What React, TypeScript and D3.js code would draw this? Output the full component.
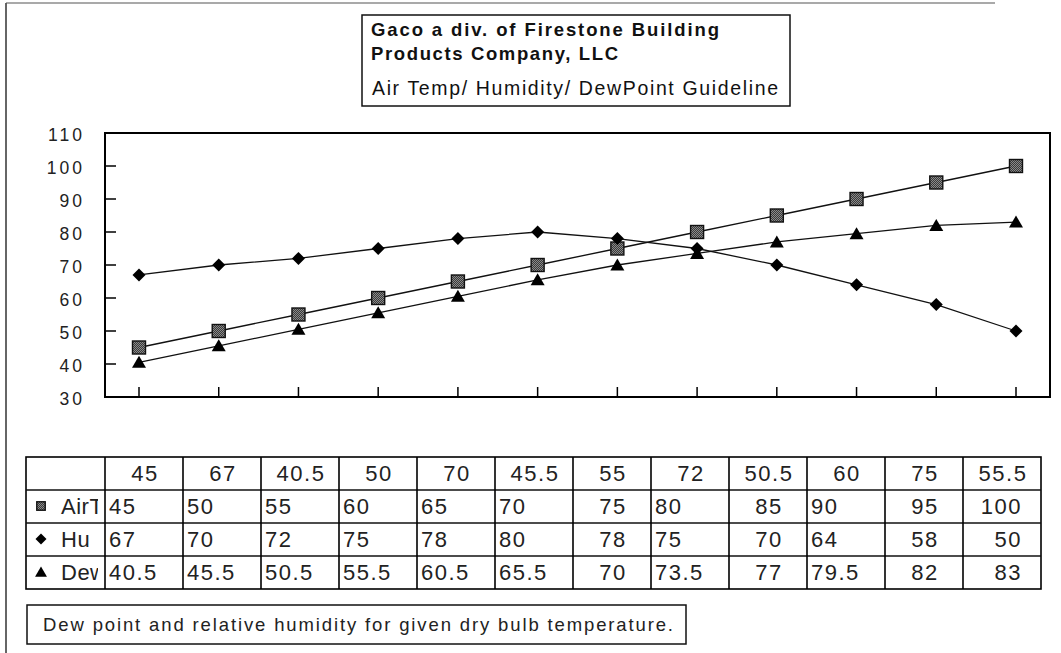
import React from 'react';
import * as d3 from 'd3';

const categories = ['45', '67', '40.5', '50', '70', '45.5', '55', '72', '50.5', '60', '75', '55.5'];
const airTemp = [45, 50, 55, 60, 65, 70, 75, 80, 85, 90, 95, 100];
const humidity = [67, 70, 72, 75, 78, 80, 78, 75, 70, 64, 58, 50];
const dewPoint = [40.5, 45.5, 50.5, 55.5, 60.5, 65.5, 70, 73.5, 77, 79.5, 82, 83];
const yTicks = [30, 40, 50, 60, 70, 80, 90, 100, 110];
const seriesNames = ['Air Temp', 'Humidity', 'Dew Point'];
const seriesShown = ['AirT', 'Hu', 'Dew'];
const titleLines = ['Gaco a div. of Firestone Building', 'Products Company, LLC'];
const subtitle = 'Air Temp/ Humidity/ DewPoint Guideline';
const footnote = 'Dew point and relative humidity for given dry bulb temperature.';

const W = 1061;
const H = 653;
const FONT = '"Liberation Sans", Arial, sans-serif';

type MarkerKind = 'square' | 'diamond' | 'triangle';

function Marker({ kind, cx, cy, s = 1 }: { kind: MarkerKind; cx: number; cy: number; s?: number }) {
  if (kind === 'square') {
    const h = 6.5 * s;
    return <rect x={cx - h} y={cy - h} width={2 * h} height={2 * h} fill="url(#dither)" stroke="#111" strokeWidth={1.4} />;
  }
  if (kind === 'diamond') {
    const h = 6.5 * s;
    return <path d={`M${cx},${cy - h}L${cx + h},${cy}L${cx},${cy + h}L${cx - h},${cy}Z`} fill="#000" />;
  }
  const w = 7 * s;
  return <path d={`M${cx},${cy - 6.5 * s}L${cx + w},${cy + 5.5 * s}L${cx - w},${cy + 5.5 * s}Z`} fill="#000" />;
}

export default function App() {
  const plot = { left: 105, top: 133, right: 1050, bottom: 397 };
  const x = d3.scalePoint<number>().domain(d3.range(categories.length)).range([139, 1016]);
  const y = d3.scaleLinear().domain([30, 110]).range([plot.bottom, plot.top]);
  const line = d3
    .line<number>()
    .x((_, i) => x(i) as number)
    .y((d) => y(d));

  const series: { name: string; shown: string; kind: MarkerKind; values: number[] }[] = [
    { name: seriesNames[0], shown: seriesShown[0], kind: 'square', values: airTemp },
    { name: seriesNames[1], shown: seriesShown[1], kind: 'diamond', values: humidity },
    { name: seriesNames[2], shown: seriesShown[2], kind: 'triangle', values: dewPoint },
  ];

  // table geometry
  const tLeft = 26;
  const tLabelRight = 105;
  const tRight = 1041;
  const tTop = 457;
  const rowH = 33;
  const col = d3.scaleBand<number>().domain(d3.range(categories.length)).range([tLabelRight, tRight]);
  const bw = col.bandwidth();
  const colAlign = ['start', 'start', 'start', 'start', 'start', 'start', 'middle', 'start', 'middle', 'start', 'middle', 'end'];
  const cellX = (i: number) => {
    const a = colAlign[i];
    const x0 = col(i) as number;
    if (a === 'start') return x0 + 4;
    if (a === 'middle') return x0 + bw / 2 + 1;
    return x0 + bw - 19;
  };
  const tBottom = tTop + rowH * 4;

  return (
    <svg width={W} height={H} style={{ position: 'absolute', left: 0, top: 0, background: '#fff' }} fontFamily={FONT}>
      <defs>
        <pattern id="dither" width="2" height="2" patternUnits="userSpaceOnUse">
          <rect width="2" height="2" fill="#3a3a3a" />
          <rect width="1" height="1" fill="#8a8a8a" />
          <rect x="1" y="1" width="1" height="1" fill="#8a8a8a" />
        </pattern>
        <clipPath id="labelClip">
          <rect x={tLeft} y={tTop} width={98 - tLeft} height={rowH * 4} />
        </clipPath>
      </defs>
      <rect width={W} height={H} fill="#fff" />

      {/* outer frame (left & top visible) */}
      <line x1={6} y1={3} x2={6} y2={H} stroke="#333" strokeWidth={1.5} />
      <line x1={6} y1={3} x2={995} y2={3} stroke="#555" strokeWidth={1.2} />

      {/* title box */}
      <rect x={362} y={15} width={428} height={91} fill="#fff" stroke="#111" strokeWidth={1.5} />
      <text x={371} y={36} fontSize={18.5} fontWeight="bold" textLength={348} lengthAdjust="spacing" fill="#111">
        {titleLines[0]}
      </text>
      <text x={371} y={60} fontSize={18.5} fontWeight="bold" textLength={247} lengthAdjust="spacing" fill="#111">
        {titleLines[1]}
      </text>
      <text x={372} y={95} fontSize={19.5} textLength={406} lengthAdjust="spacing" fill="#111">
        {subtitle}
      </text>

      {/* plot area */}
      <rect x={plot.left} y={plot.top} width={plot.right - plot.left} height={plot.bottom - plot.top} fill="#fff" stroke="#000" strokeWidth={2} />
      {yTicks.map((t) => (
        <g key={t}>
          {t > 30 && t < 110 && <line x1={plot.left} x2={plot.left + 11} y1={y(t)} y2={y(t)} stroke="#000" strokeWidth={1.5} />}
          <text x={82 + 3} y={y(t) + 7.5} fontSize={17.5} letterSpacing={3} textAnchor="end" fill="#222">
            {t}
          </text>
        </g>
      ))}
      {categories.map((c, i) => (
        <line key={c + i} x1={x(i)} x2={x(i)} y1={plot.bottom - 10} y2={plot.bottom} stroke="#000" strokeWidth={1.5} />
      ))}

      {series.map((s) => (
        <g key={s.name}>
          <path d={line(s.values) || ''} fill="none" stroke="#111" strokeWidth={1.3} />
          {s.values.map((v, i) => (
            <Marker key={i} kind={s.kind} cx={x(i) as number} cy={y(v)} />
          ))}
        </g>
      ))}

      {/* data table */}
      <rect x={tLeft} y={tTop} width={tRight - tLeft} height={rowH * 4} fill="none" stroke="#000" strokeWidth={1.6} />
      {[1, 2, 3].map((r) => (
        <line key={r} x1={tLeft} x2={tRight} y1={tTop + r * rowH} y2={tTop + r * rowH} stroke="#111" strokeWidth={1.4} />
      ))}
      {[tLabelRight, ...d3.range(1, categories.length).map((i) => col(i) as number)].map((cx, i) => (
        <line key={i} x1={cx} x2={cx} y1={tTop} y2={tBottom} stroke="#000" strokeWidth={1.6} />
      ))}
      {categories.map((c, i) => (
        <text key={c + i} x={(col(i) as number) + bw / 2 + 1} y={tTop + 24} fontSize={22} letterSpacing={1.5} textAnchor="middle" fill="#222">
          {c}
        </text>
      ))}
      {series.map((s, r) => {
        const rt = tTop + (r + 1) * rowH;
        return (
          <g key={s.name}>
            <g clipPath="url(#labelClip)">
              <text x={61} y={rt + 24} fontSize={22} letterSpacing={0.5} fill="#222">
                {s.shown}
              </text>
            </g>
            <Marker kind={s.kind} cx={41} cy={rt + 16} s={s.kind === 'square' ? 0.65 : 0.85} />
            {s.values.map((v, i) => (
              <text
                key={i}
                x={cellX(i)}
                y={rt + 24}
                fontSize={22}
                letterSpacing={1.5}
                textAnchor={colAlign[i] as 'start' | 'middle' | 'end'}
                fill="#222"
              >
                {v}
              </text>
            ))}
          </g>
        );
      })}

      {/* footnote */}
      <rect x={27} y={605} width={659} height={39} fill="#fff" stroke="#111" strokeWidth={1.5} />
      <text x={43} y={631} fontSize={18.5} textLength={630} lengthAdjust="spacing" fill="#222">
        {footnote}
      </text>
    </svg>
  );
}
